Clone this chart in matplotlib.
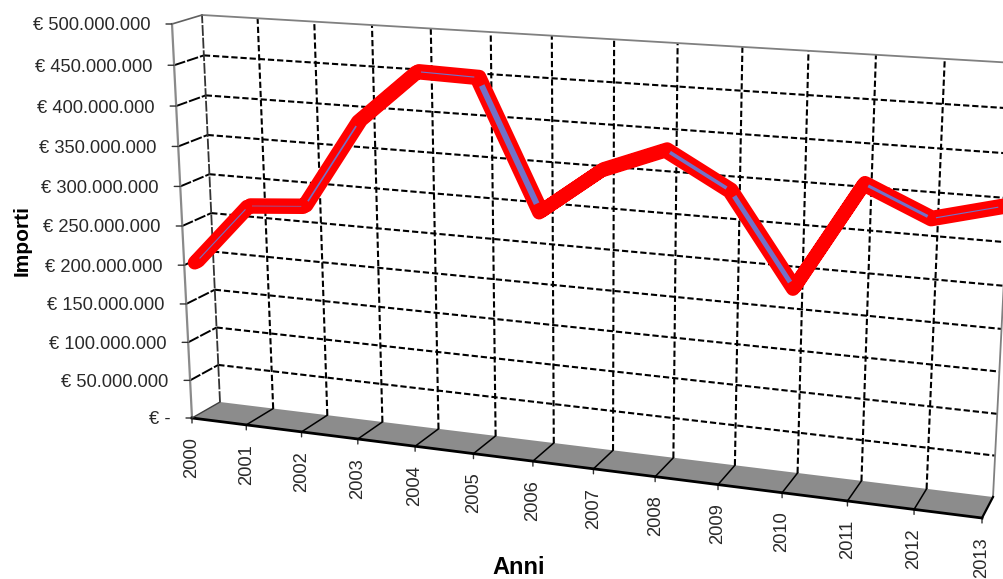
import numpy as np
import matplotlib
matplotlib.use("Agg")
import matplotlib.pyplot as plt
from matplotlib.transforms import Transform

YEARS = [2000, 2001, 2002, 2003, 2004, 2005, 2006, 2007, 2008, 2009, 2010, 2011, 2012, 2013]
IMPORTI = [197, 275, 281, 392, 456, 454, 300, 356, 385, 344, 237, 364, 331, 351]  # milioni di euro
TICK_VALUES = [0, 50, 100, 150, 200, 250, 300, 350, 400, 450, 500]
TICK_LABELS = ["€ -", "€ 50.000.000", "€ 100.000.000", "€ 150.000.000", "€ 200.000.000",
               "€ 250.000.000", "€ 300.000.000", "€ 350.000.000", "€ 400.000.000",
               "€ 450.000.000", "€ 500.000.000"]

# plot box corners in image pixels: (left/right, bottom/top)
FRONT = [(192, 418), (982, 518), (1006, 76), (172, 24)]
BACK = [(220, 402), (993, 497), (1015, 63), (202, 15)]


def homography(corners):
    src = [(0, 0), (13, 0), (13, 500), (0, 500)]
    rows, rhs = [], []
    for (u, v), (px, py) in zip(src, corners):
        rows.append([u, v, 1, 0, 0, 0, -u * px, -v * px])
        rows.append([0, 0, 0, u, v, 1, -u * py, -v * py])
        rhs += [px, py]
    return np.append(np.linalg.solve(np.array(rows, float), np.array(rhs, float)), 1).reshape(3, 3)


class Perspective(Transform):
    """year index / value at a given depth (0 front, 1 back) -> image pixels"""
    input_dims = 2
    output_dims = 2

    def __init__(self, depth):
        super().__init__()
        corners = [((1 - depth) * f[0] + depth * b[0], (1 - depth) * f[1] + depth * b[1])
                   for f, b in zip(FRONT, BACK)]
        self.h = homography(corners)

    def transform_non_affine(self, values):
        pts = np.column_stack([values, np.ones(len(values))]) @ self.h.T
        return pts[:, :2] / pts[:, 2:]


plt.rcParams["font.family"] = ["Liberation Sans", "DejaVu Sans"]
fig = plt.figure(figsize=(10.04, 5.79), dpi=100)
ax = fig.add_axes([0, 0, 1, 1])
ax.set_xlim(0, 1004)
ax.set_ylim(579, 0)
ax.axis("off")

front = Perspective(0) + ax.transData
back = Perspective(1) + ax.transData
mid = Perspective(0.42) + ax.transData
near = Perspective(0.36) + ax.transData
far = Perspective(0.48) + ax.transData
n = len(YEARS) - 1
DASH = (0, (3, 1.4))


def depth_line(u, v, **kw):
    # a line running from the front plane to the back wall
    p0 = front.transform((u, v))
    p1 = back.transform((u, v))
    ax.plot([p0[0], p1[0]], [p0[1], p1[1]], transform=None, **kw)


# floor
floor = np.vstack([front.transform([(0, 0), (n, 0)]), back.transform([(n, 0), (0, 0)])])
ax.fill(floor[:, 0], floor[:, 1], color="#8c8c8c", transform=None, lw=0, zorder=1)

# back wall grid
for v in TICK_VALUES[1:-1]:
    ax.plot(np.arange(n + 1), [v] * (n + 1), transform=back, color="black", lw=1.5, ls=DASH, zorder=2)
    depth_line(0, v, color="black", lw=1.4, ls=(0, (6, 1)), zorder=2)
for i in range(1, n):
    ax.plot([i, i], [0, 500], transform=back, color="black", lw=1.5, ls=DASH, zorder=2)
    depth_line(i, 0, color="black", lw=1.1, zorder=3)
ax.plot([0, 0], [0, 500], transform=back, color="#333333", lw=1.3, ls=(0, (6, 1)), zorder=2)
ax.plot([0, n, n], [500, 500, 0], transform=back, color="#808080", lw=1.3, zorder=2)
depth_line(0, 500, color="#606060", lw=1.2, zorder=2)

# axes
ax.plot([0, 0], [0, 500], transform=front, color="#8a8a8a", lw=1.6, zorder=3)
ax.plot([0, n], [0, 0], transform=front, color="black", lw=2.0, zorder=4)
depth_line(n, 0, color="black", lw=1.6, zorder=4)
depth_line(0, 0, color="#404040", lw=1.0, zorder=4)

# tick marks and labels
for v, label in zip(TICK_VALUES, TICK_LABELS):
    ax.annotate("", xy=(0, v), xycoords=front, xytext=(-6, 0), textcoords="offset pixels",
                arrowprops=dict(arrowstyle="-", color="#333333", lw=1.0, shrinkA=0, shrinkB=0))
    ax.annotate(label, xy=(0, v), xycoords=front, xytext=(-21.5 if v else -21, -2),
                textcoords="offset pixels", ha="right", va="center", fontsize=13.2, color="#2a2a2a")
for i, year in enumerate(YEARS):
    ax.annotate("", xy=(i, 0), xycoords=front, xytext=(0, -5), textcoords="offset pixels",
                arrowprops=dict(arrowstyle="-", color="#333333", lw=1.0, shrinkA=0, shrinkB=0))
    ax.annotate(str(year), xy=(i, 0), xycoords=front, xytext=(0, -19), textcoords="offset pixels",
                ha="center", va="top", rotation=90, fontsize=13.2, color="#2a2a2a")

# series: red ribbon, blue face visible only on the falling stretches
idx = np.arange(n + 1)
ribbon = np.vstack([near.transform(np.column_stack([idx, IMPORTI])),
                    far.transform(np.column_stack([idx, IMPORTI]))[::-1]])
ax.fill(ribbon[:, 0], ribbon[:, 1], facecolor="#ff0000", edgecolor="#ff0000", lw=10, joinstyle="round",
        transform=None, zorder=6)
blue_widths = [0.8, 0.5, 1.2, 0, 0.8, 4.3, 0, 0, 2.6, 3.5, 0, 2.2, 0.8]
for i, w in enumerate(blue_widths):
    if w:
        t = np.array([0.06, 0.94])
        ax.plot(i + t, IMPORTI[i] + t * (IMPORTI[i + 1] - IMPORTI[i]), transform=mid,
                color="#7272c8", lw=w, solid_capstyle="butt", zorder=7)

ax.text(22, 241, "Importi", rotation=90, ha="center", va="center", fontsize=15, fontweight="bold",
        color="black")
ax.text(519, 568, "Anni", ha="center", va="center", fontsize=17, fontweight="bold", color="black")

fig.savefig("out.png", dpi=100)
